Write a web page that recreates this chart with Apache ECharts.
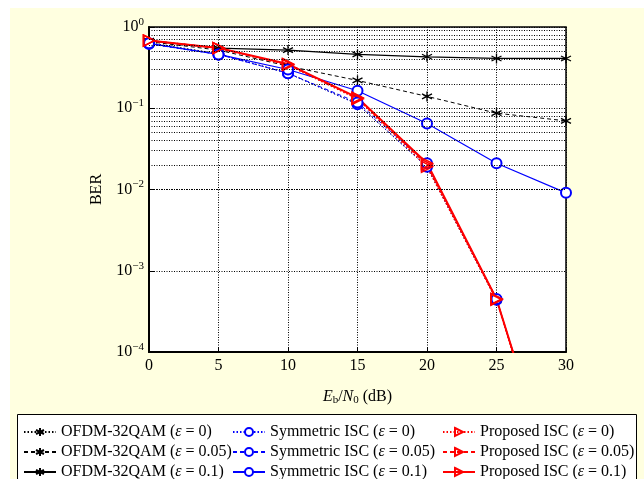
<!DOCTYPE html>
<html>
<head>
<meta charset="utf-8">
<script src="https://cdn.jsdelivr.net/npm/echarts@6/dist/echarts.min.js"></script>
<style>
html,body{margin:0;padding:0;background:#ffffff;}
#main{width:644px;height:479px;}
</style>
</head>
<body>
<div id="main"></div>
<script>
// ---- data ----
var snr = [0, 5, 10, 15, 20, 25, 30];
var ofdm0   = [0.64, 0.47, 0.27, 0.113, 0.019, 4.3e-4, 1e-6];
var ofdm005 = [0.66, 0.52, 0.33, 0.22, 0.14, 0.087, 0.07];
var ofdm01  = [0.68, 0.55, 0.52, 0.46, 0.43, 0.41, 0.41];
var sym0    = [0.62, 0.46, 0.27, 0.112, 0.019, 4.4e-4, 8e-7];
var sym005  = [0.62, 0.46, 0.27, 0.118, 0.021, 4.5e-4, 8e-7];
var sym01   = [0.63, 0.46, 0.30, 0.164, 0.065, 0.021, 0.0091];
var prop0   = [0.68, 0.55, 0.34, 0.13, 0.019, 4.4e-4, 7e-7];
var prop005 = [0.68, 0.55, 0.345, 0.133, 0.020, 4.5e-4, 7.5e-7];
var prop01  = [0.68, 0.55, 0.35, 0.135, 0.021, 4.5e-4, 8e-7];
var minorGrid = [];
[1e-4, 1e-3, 1e-2, 1e-1].forEach(function (d) {
  for (var k = 2; k <= 9; k++) minorGrid.push(+(d * k).toPrecision(3));
});
var names = {
  o0: 'OFDM-32QAM ({i|ε} = 0)', o1: 'OFDM-32QAM ({i|ε} = 0.05)', o2: 'OFDM-32QAM ({i|ε} = 0.1)',
  s0: 'Symmetric ISC ({i|ε} = 0)', s1: 'Symmetric ISC ({i|ε} = 0.05)', s2: 'Symmetric ISC ({i|ε} = 0.1)',
  p0: 'Proposed ISC ({i|ε} = 0)', p1: 'Proposed ISC ({i|ε} = 0.05)', p2: 'Proposed ISC ({i|ε} = 0.1)'
};

var FONT = 'Liberation Serif';
var STAR = 'path://M5,0L5,10M0.67,2.5L9.33,7.5M0.67,7.5L9.33,2.5';
var TRI = 'path://M0,0L10,5L0,10Z';

function pairs(arr) { return snr.map(function (x, i) { return [x, arr[i]]; }); }

function mk(name, arr, color, type, width, symbol, size, kind) {
  var item;
  if (kind === 'tri') item = { color: 'rgba(0,0,0,0)', borderColor: color, borderWidth: 1.5 };
  else if (kind === 'circle') item = { color: color, borderColor: color, borderWidth: 1.2 };
  else item = { color: color, borderColor: color, borderWidth: 1.3 };
  return {
    name: name, type: 'line', data: pairs(arr),
    symbol: symbol, symbolSize: size, showSymbol: true,
    lineStyle: { color: color, type: type, width: width },
    itemStyle: item, clip: true, animation: false, z: 3
  };
}

var DOT = [1.5, 2];
var DASH = [4, 3];

var series = [
  mk(names.o0, ofdm0, '#000', DOT, 1, STAR, 10, 'star'),
  mk(names.o1, ofdm005, '#000', DASH, 1, STAR, 10, 'star'),
  mk(names.o2, ofdm01, '#000', 'solid', 1.2, STAR, 10, 'star'),
  mk(names.s0, sym0, '#0000ff', DOT, 1, 'emptyCircle', 10, 'circle'),
  mk(names.s1, sym005, '#0000ff', DASH, 1, 'emptyCircle', 10, 'circle'),
  mk(names.s2, sym01, '#0000ff', 'solid', 1.2, 'emptyCircle', 10, 'circle'),
  mk(names.p0, prop0, '#ff0000', DOT, 1.5, TRI, 11, 'tri'),
  mk(names.p1, prop005, '#ff0000', DASH, 1.5, TRI, 11, 'tri'),
  mk(names.p2, prop01, '#ff0000', 'solid', 2, TRI, 11, 'tri')
];
// minor grid lines drawn through the y scale
series.push({
  type: 'line', data: [], silent: true, z: 1,
  markLine: {
    silent: true, symbol: 'none', animation: false,
    label: { show: false },
    lineStyle: { color: '#000', type: [1, 1.5], width: 1 },
    data: minorGrid.map(function (v) { return { yAxis: v }; })
  }
});

var rich = { i: { fontFamily: FONT, fontStyle: 'italic', fontSize: 16, color: '#000' } };

function legendCol(left, keys) {
  return {
    orient: 'vertical', left: left, top: 423, height: 80, padding: 0,
    itemWidth: 32, itemHeight: 10, itemGap: 2,
    data: keys.map(function (k) { return names[k]; }),
    textStyle: { fontFamily: FONT, fontSize: 16, color: '#000', lineHeight: 18, rich: rich },
    selectedMode: false
  };
}

var chart = echarts.init(document.getElementById('main'), null, { renderer: 'canvas' });
chart.setOption({
  backgroundColor: '#ffffff',
  animation: false,
  graphic: [
    { type: 'rect', z: -10, silent: true, shape: { x: 10, y: 8, width: 634, height: 471 }, style: { fill: '#ffffe0' } },
    { type: 'rect', z: -5, silent: true, shape: { x: 17.5, y: 414.5, width: 619, height: 80 }, style: { fill: '#ffffff', stroke: '#000', lineWidth: 1 } }
  ],
  grid: { left: 149, right: 78, top: 27, bottom: 127, show: true, backgroundColor: '#ffffff', borderColor: '#000', borderWidth: 1.5 },
  legend: [
    legendCol(23, ['o0', 'o1', 'o2']),
    legendCol(232, ['s0', 's1', 's2']),
    legendCol(442, ['p0', 'p1', 'p2'])
  ],
  xAxis: {
    type: 'value', min: 0, max: 30, interval: 5,
    name: '{i|E}{sb|b}/{i|N}{sb|0} (dB)', nameLocation: 'middle', nameGap: 35,
    nameTextStyle: { fontFamily: FONT, fontSize: 16, color: '#000',
      rich: { i: { fontFamily: FONT, fontStyle: 'italic', fontSize: 16, color: '#000' },
              sb: { fontFamily: FONT, fontSize: 11, color: '#000', verticalAlign: 'bottom', padding: [8, 0, 0, 0] } } },
    axisLine: { lineStyle: { color: '#000', width: 2 } },
    axisTick: { inside: true, length: 5, lineStyle: { color: '#000' } },
    axisLabel: { fontFamily: FONT, fontSize: 16, color: '#000', margin: 6 },
    splitLine: { show: true, lineStyle: { color: '#000', type: [1, 1.5], width: 1 } }
  },
  yAxis: {
    type: 'log', logBase: 10, min: 1e-4, max: 1,
    name: 'BER', nameLocation: 'middle', nameGap: 44, nameRotate: 90,
    nameTextStyle: { fontFamily: FONT, fontSize: 16, color: '#000' },
    axisLine: { show: true, lineStyle: { color: '#000', width: 2 } },
    axisTick: { show: true, inside: true, length: 5, lineStyle: { color: '#000' } },
    axisLabel: {
      fontFamily: FONT, fontSize: 16, color: '#000', margin: 5,
      formatter: function (v) {
        var e = Math.round(Math.log10(v));
        return '10{s|' + (e < 0 ? '\u2212' + (-e) : e) + '}';
      },
      rich: { s: { fontFamily: FONT, fontSize: 11, color: '#000', verticalAlign: 'top', padding: [0, 0, 10, 0] } }
    },
    splitLine: { show: true, lineStyle: { color: '#000', type: [1, 1.5], width: 1 } }
  },
  series: series
});
</script>
</body>
</html>
